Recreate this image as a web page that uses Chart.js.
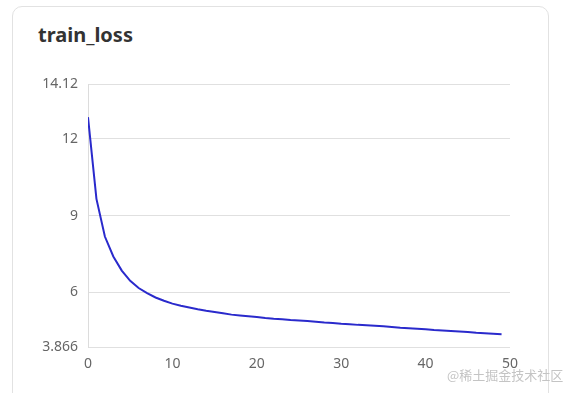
<!DOCTYPE html>
<html>
<head>
<meta charset="utf-8">
<script src="https://cdn.jsdelivr.net/npm/chart.js@4/dist/chart.umd.min.js"></script>
<style>
  body { margin: 0; background: #fff; width: 568px; height: 393px; overflow: hidden; position: relative; }
  .card {
    position: absolute; left: 12px; top: 6px; width: 537px; height: 420px;
    border: 1px solid #e2e2e2; border-radius: 10px; box-sizing: border-box;
  }
  .title {
    position: absolute; left: 38px; top: 21px;
    font: bold 20px "Noto Sans", sans-serif; color: #333;
  }
  .chart-box { position: absolute; left: 30px; top: 66px; width: 500px; height: 311px; }
  .mark {
    position: absolute; left: 447px; top: 365px;
    font: 13px "Noto Sans CJK SC", sans-serif; color: #c4c4c4;
  }
</style>
</head>
<body>
<div class="card"></div>
<div class="title">train_loss</div>
<div class="chart-box"><canvas id="lossChart"></canvas></div>
<div class="mark">@稀土掘金技术社区</div>
<script>
// train loss per epoch
var epochs = [];
for (var i = 0; i < 50; i++) epochs.push(i);
var loss = [12.84, 9.65, 8.18, 7.40, 6.85, 6.45, 6.17, 5.97, 5.80, 5.67,
            5.56, 5.48, 5.41, 5.34, 5.28, 5.23, 5.18, 5.13, 5.10, 5.07,
            5.04, 5.00, 4.97, 4.95, 4.92, 4.90, 4.88, 4.85, 4.82, 4.80,
            4.77, 4.75, 4.73, 4.72, 4.70, 4.68, 4.65, 4.62, 4.60, 4.58,
            4.56, 4.53, 4.51, 4.49, 4.47, 4.45, 4.42, 4.40, 4.38, 4.36];
var yTicks = [3.866, 6, 9, 12, 14.12];
var xTicks = [0, 10, 20, 30, 40, 50];

var points = epochs.map(function (e, i) { return {x: e, y: loss[i]}; });
var tickFont = {family: '"Noto Sans", sans-serif', size: 14};

var ctx = document.getElementById('lossChart').getContext('2d');
var lossChart = new Chart(ctx, {
    type: 'line',
    data: {
        datasets: [{
            label: 'train_loss',
            data: points,
            borderColor: '#2a2acc',
            borderWidth: 2,
            pointRadius: 0,
            tension: 0,
            fill: false
        }]
    },
    options: {
        responsive: true,
        maintainAspectRatio: false,
        animation: false,
        layout: {padding: {top: 0, right: 20}},
        plugins: {legend: {display: false}, tooltip: {enabled: false}},
        scales: {
            x: {
                type: 'linear',
                min: xTicks[0],
                max: xTicks[xTicks.length - 1],
                afterBuildTicks: function (scale) {
                    scale.ticks = xTicks.map(function (v) { return {value: v}; });
                },
                afterFit: function (scale) { scale.height = 30; },
                grid: {display: false, drawTicks: false},
                border: {display: false},
                ticks: {color: '#666', font: tickFont, padding: 9, maxRotation: 0}
            },
            y: {
                min: yTicks[0],
                max: yTicks[yTicks.length - 1],
                afterBuildTicks: function (scale) {
                    scale.ticks = yTicks.map(function (v) { return {value: v}; });
                },
                afterFit: function (scale) { scale.width = 58; },
                grid: {color: '#e0e0e0', drawTicks: false},
                border: {display: true, color: '#dcdcdc'},
                ticks: {
                    color: '#666', font: tickFont, padding: 10,
                    callback: function (v) { return String(v); }
                }
            }
        }
    }
});
</script>
</body>
</html>
